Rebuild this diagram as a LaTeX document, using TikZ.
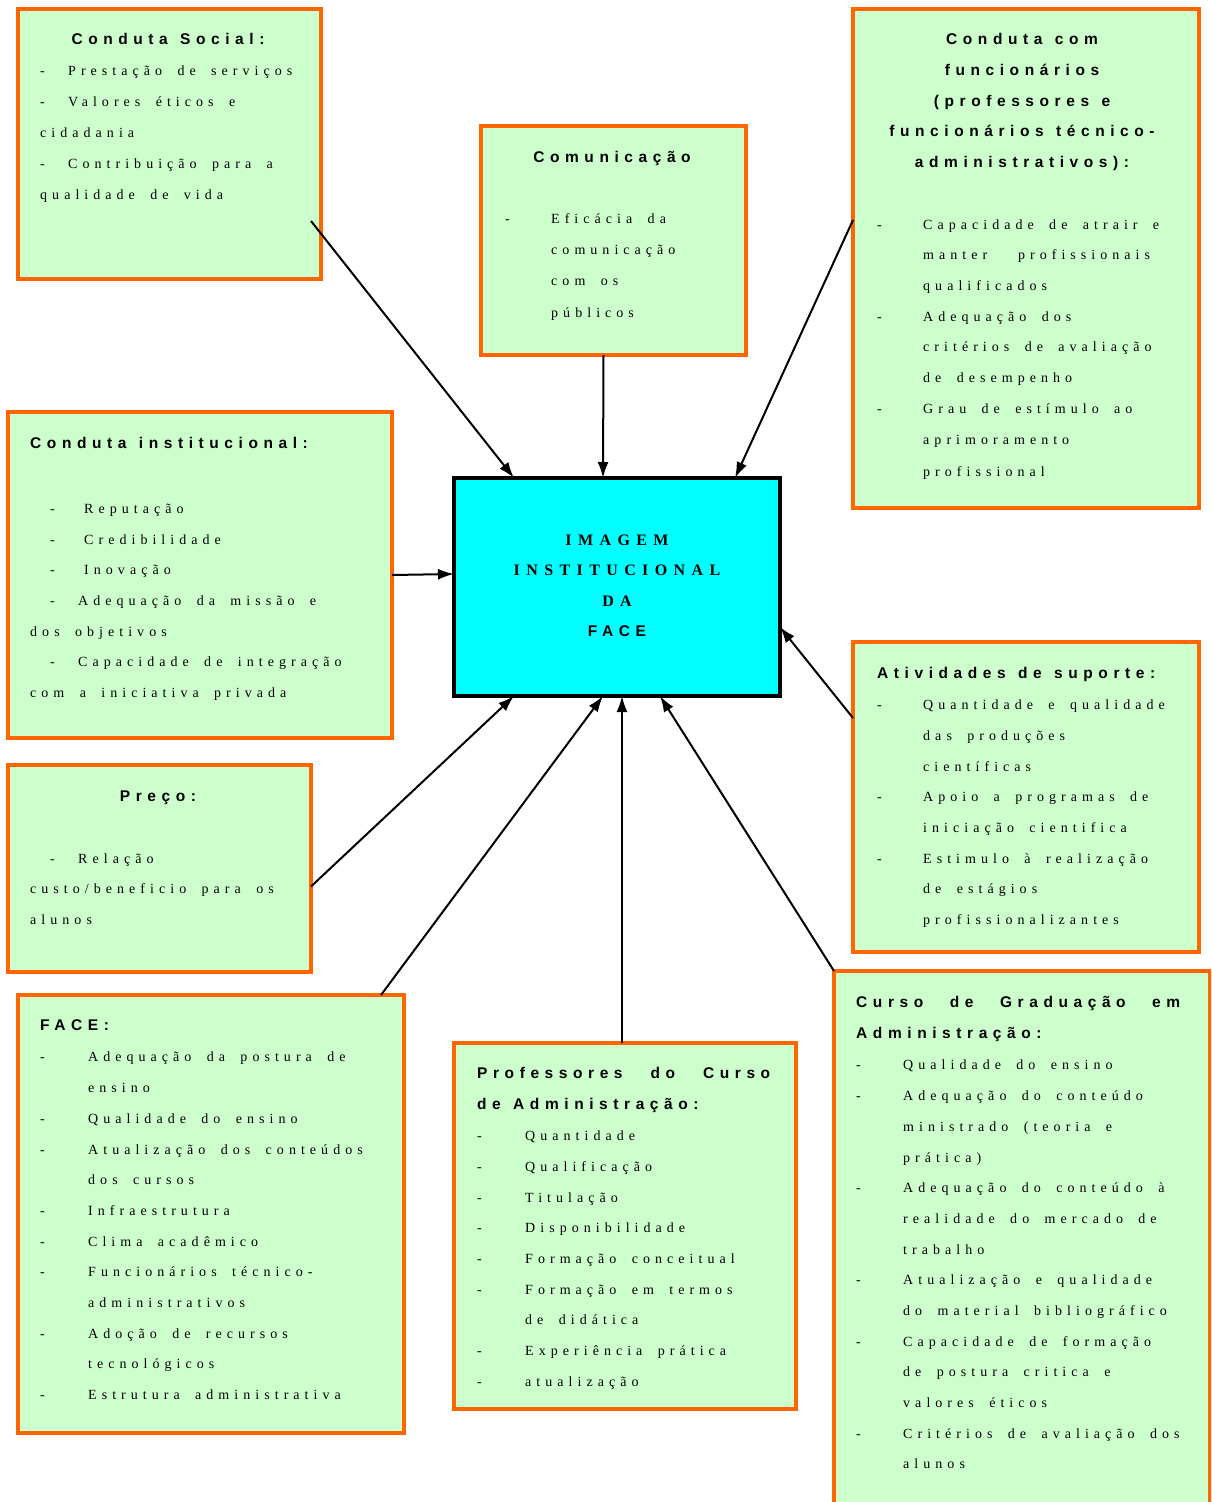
\documentclass[tikz,border=0pt]{standalone}
\usepackage{fontspec}
\usetikzlibrary{arrows.meta,calc}
\newfontfamily\itemfont{Liberation Serif}[LetterSpace=36,WordSpace=1.8]
\newfontfamily\titfont{Liberation Sans}[LetterSpace=36,WordSpace=1.25]
\newfontfamily\ctrfont{Liberation Serif}[LetterSpace=40]
\definecolor{boxorange}{RGB}{255,102,0}
\definecolor{boxgreen}{RGB}{204,255,204}
\definecolor{ctrcyan}{RGB}{0,255,255}
\newcommand\DL[5]{\node[itm] (#1) at (#2,#4) {\makebox[#3pt][l]{-}#5};}
\newcommand\PL[4]{\node[itm] (#1) at (#2,#3) {#4};}
\newcommand\BX[5]{\node[boxst, minimum width=#4-#2, minimum height=#5-#3] (#1) at ({(#2+#4)/2},{(#3+#5)/2}) {};}
\tikzset{
  boxst/.style={draw=boxorange, fill=boxgreen, line width=4pt, inner sep=0, outer sep=0},
  itm/.style={anchor=mid west, inner sep=0, yshift=-3.5pt, font=\itemfont\fontsize{14}{16}\selectfont},
  titc/.style={anchor=mid, inner sep=0, yshift=-3.5pt, font=\titfont\bfseries\fontsize{15.5}{18}\selectfont},
  titl/.style={titc, anchor=mid west},
  ctrs/.style={anchor=mid, inner sep=0, yshift=-3.5pt, font=\ctrfont\bfseries\fontsize{16}{18}\selectfont},
  arr/.style={line width=2pt, -{Latex[length=16pt,width=11pt]}}
}
\begin{document}
\begin{tikzpicture}[x=1pt,y=-1pt]
\useasboundingbox (0,0) rectangle (1211,1502);
\clip (0,0) rectangle (1211,1502);
% boxes
\BX{A}{18}{9}{321}{279}
\BX{B}{481}{126}{746}{355}
\BX{C}{853}{9}{1199}{508}
\BX{D}{8}{412}{392}{738}
\BX{F}{853}{642}{1199}{952}
\BX{G}{8}{765}{311}{972}
\BX{H}{18}{995}{404}{1433}
\BX{I}{454}{1043}{796}{1409}
\BX{J}{834}{971}{1210}{1530}
\node[draw=black, fill=ctrcyan, line width=3.5pt, minimum width=326, minimum height=218, inner sep=0, outer sep=0] (E) at (617,587) {};
% Box A
\node[titc] (At) at (168,39) {Conduta Social:};
\DL{a1}{40}{28}{70}{Prestação de serviços}
\DL{a2}{40}{28}{101}{Valores éticos e}
\PL{a3}{40}{132}{cidadania}
\DL{a4}{40}{28}{163}{Contribuição para a}
\PL{a5}{40}{194}{qualidade de vida}
% Box B
\node[titc] (Bt) at (612,157) {Comunicação};
\DL{b1}{505}{46}{218}{Eficácia da}
\PL{b2}{551}{249}{comunicação}
\PL{b3}{551}{280}{com os}
\PL{b4}{551}{312}{públicos}
% Box C
\node[titc] (Ct1) at (1022,39) {Conduta com};
\node[titc] (Ct2) at (1022,70) {funcionários};
\node[titc] (Ct3) at (1022,101) {(professores e};
\node[titc] (Ct4) at (1022,131) {funcionários técnico-};
\node[titc] (Ct5) at (1022,162) {administrativos):};
\DL{c1}{877}{46}{224}{Capacidade de atrair e}
\PL{c2}{923}{254}{manter\ \ profissionais}
\PL{c3}{923}{285}{qualificados}
\DL{c4}{877}{46}{316}{Adequação dos}
\PL{c5}{923}{346}{critérios de avaliação}
\PL{c6}{923}{377}{de desempenho}
\DL{c7}{877}{46}{408}{Grau de estímulo ao}
\PL{c8}{923}{439}{aprimoramento}
\PL{c9}{923}{471}{profissional}
% Box D
\node[titl] (Dt) at (30,443) {Conduta institucional:};
\DL{d1}{50}{34}{508}{Reputação}
\DL{d2}{50}{34}{539}{Credibilidade}
\DL{d3}{50}{34}{569}{Inovação}
\DL{d4}{50}{28}{600}{Adequação da missão e}
\PL{d5}{30}{631}{dos objetivos}
\DL{d6}{50}{28}{661}{Capacidade de integração}
\PL{d7}{30}{692}{com a iniciativa privada}
% Center
\node[ctrs] (E1) at (617,540) {IMAGEM};
\node[ctrs] (E2) at (617,570) {INSTITUCIONAL};
\node[ctrs] (E3) at (617,601) {DA};
\node[titc] (E4) at (617,631) {FACE};
% Box F
\node[titl] (Ft) at (877,673) {Atividades de suporte:};
\DL{f1}{877}{46}{704}{Quantidade e qualidade}
\PL{f2}{923}{735}{das produções}
\PL{f3}{923}{766}{científicas}
\DL{f4}{877}{46}{796}{Apoio a programas de}
\PL{f5}{923}{827}{iniciação cientifica}
\DL{f6}{877}{46}{858}{Estimulo à realização}
\PL{f7}{923}{888}{de estágios}
\PL{f8}{923}{919}{profissionalizantes}
% Box G
\node[titc] (Gt) at (158,796) {Preço:};
\DL{g1}{50}{28}{858}{Relação}
\PL{g2}{30}{888}{custo/beneficio para os}
\PL{g3}{30}{919}{alunos}
% Box H
\node[titl] (Ht) at (40,1025) {FACE:};
\DL{h1}{40}{48}{1056}{Adequação da postura de}
\PL{h2}{88}{1087}{ensino}
\DL{h3}{40}{48}{1118}{Qualidade do ensino}
\DL{h4}{40}{48}{1149}{Atualização dos conteúdos}
\PL{h5}{88}{1179}{dos cursos}
\DL{h6}{40}{48}{1210}{Infraestrutura}
\DL{h7}{40}{48}{1241}{Clima acadêmico}
\DL{h8}{40}{48}{1271}{Funcionários técnico-}
\PL{h9}{88}{1302}{administrativos}
\DL{h10}{40}{48}{1333}{Adoção de recursos}
\PL{h11}{88}{1363}{tecnológicos}
\DL{h12}{40}{48}{1394}{Estrutura administrativa}
% Box I
\node[titl] (It1) at (477,1073) {\makebox[293pt][s]{Professores do Curso}};
\node[titl] (It2) at (477,1104) {de Administração:};
\DL{i1}{477}{48}{1135}{Quantidade}
\DL{i2}{477}{48}{1166}{Qualificação}
\DL{i3}{477}{48}{1197}{Titulação}
\DL{i4}{477}{48}{1227}{Disponibilidade}
\DL{i5}{477}{48}{1258}{Formação conceitual}
\DL{i6}{477}{48}{1289}{Formação em termos}
\PL{i7}{525}{1319}{de didática}
\DL{i8}{477}{48}{1350}{Experiência prática}
\DL{i9}{477}{48}{1381}{atualização}
% Box J
\node[titl] (Jt1) at (856,1002) {\makebox[324pt][s]{Curso de Graduação em}};
\node[titl] (Jt2) at (856,1033) {Administração:};
\DL{j1}{856}{47}{1064}{Qualidade do ensino}
\DL{j2}{856}{47}{1095}{Adequação do conteúdo}
\PL{j3}{903}{1126}{ministrado (teoria e}
\PL{j4}{903}{1157}{prática)}
\DL{j5}{856}{47}{1187}{Adequação do conteúdo à}
\PL{j6}{903}{1218}{realidade do mercado de}
\PL{j7}{903}{1249}{trabalho}
\DL{j8}{856}{47}{1279}{Atualização e qualidade}
\PL{j9}{903}{1310}{do material bibliográfico}
\DL{j10}{856}{47}{1341}{Capacidade de formação}
\PL{j11}{903}{1371}{de postura critica e}
\PL{j12}{903}{1402}{valores éticos}
\DL{j13}{856}{47}{1433}{Critérios de avaliação dos}
\PL{j14}{903}{1463}{alunos}
% connectors
\draw[arr] ($(A.north east)+(-10,212)$) -- ($(E.north west)+(60,0)$);
\draw[arr] ($(B.south)+(-10,0)$) -- ($(E.north west)+(149,0)$);
\draw[arr] ($(C.north west)+(0,211)$) -- ($(E.north west)+(281,0)$);
\draw[arr] (D.east) -- ($(E.west)+(0,-13)$);
\draw[arr] ($(F.north west)+(0,76)$) -- ($(E.east)+(0,40)$);
\draw[arr] ($(G.east)+(0,18)$) -- ($(E.south west)+(60,0)$);
\draw[arr] ($(H.north east)+(-23,0)$) -- ($(E.south west)+(149,0)$);
\draw[arr] ($(I.north)+(-3,0)$) -- ($(E.south west)+(168,0)$);
\draw[arr] (J.north west) -- ($(E.south west)+(206,0)$);
\end{tikzpicture}
\end{document}
